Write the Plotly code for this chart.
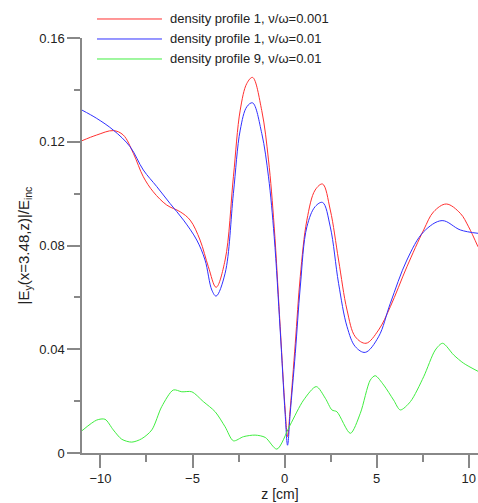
import plotly.graph_objects as go

# red: density profile 1, nu/omega = 0.001
z_red = [-11.0, -10.2, -9.3, -8.76, -8.21, -7.67, -7.13, -6.4, -5.67, -5.13, -4.59, -4.14, -3.72,
         -3.23, -2.78, -2.41, -2.05, -1.74, -1.24, -0.875, -0.565, -0.24, 0.03, 0.16,
         0.30, 0.58, 0.85, 1.21, 1.66, 2.06, 2.48, 2.93, 3.39, 3.84, 4.42, 5.1, 5.74, 6.64, 7.55, 8.09, 8.78,
         9.54, 9.99, 10.5]
v_red = [0.1204, 0.1226, 0.1243, 0.1226, 0.1155, 0.1065, 0.1007, 0.0956, 0.0930, 0.0898, 0.0821, 0.0718, 0.0639,
         0.0744, 0.1065, 0.1322, 0.1425, 0.1448, 0.1320, 0.1130, 0.0872, 0.0487, 0.0166, 0.0063,
         0.0166, 0.0423, 0.0680, 0.0898, 0.1014, 0.1037, 0.0937, 0.0744, 0.0551, 0.0448, 0.0423, 0.0474, 0.0564, 0.0718, 0.0860, 0.0930, 0.0960,
         0.0924, 0.0872, 0.0795]

# blue: density profile 1, nu/omega = 0.01
z_blue = [-11.0, -10.2, -9.3, -8.39, -7.67, -6.94, -6.22, -5.49, -4.77, -4.32, -3.95, -3.72,
          -3.23, -2.78, -2.41, -2.05, -1.74, -1.24, -0.875, -0.565, -0.24, 0.03, 0.16,
          0.30, 0.58, 0.85, 1.21, 1.66, 2.06, 2.48, 2.93, 3.39, 3.84, 4.38, 5.1, 5.74, 6.64, 7.55, 8.55, 9.54, 10.5]
v_blue = [0.1322, 0.1290, 0.1245, 0.1181, 0.1091, 0.1027, 0.0962, 0.0898, 0.0821, 0.0744, 0.0628, 0.0605,
          0.0693, 0.1001, 0.1245, 0.1335, 0.1350, 0.1232, 0.1065, 0.0834, 0.0474, 0.0150, 0.0030,
          0.0150, 0.0384, 0.0640, 0.0872, 0.0950, 0.0966, 0.0872, 0.0654, 0.0487, 0.0410, 0.0388, 0.0448, 0.0577, 0.0744, 0.0853, 0.0896, 0.0860, 0.0847]

# green: density profile 9, nu/omega = 0.01
z_green = [-11.0, -10.2, -9.75, -9.3, -8.84, -8.3, -7.76, -7.21, -6.67, -6.04, -5.58, -5.04, -4.41, -3.77, -3.23, -2.78,
           -2.23, -1.6, -1.05, -0.42, 0.30, 1.03, 1.72, 2.21, 2.57, 2.84, 3.57, 4.11, 4.65, 4.92, 5.38, 5.92, 6.28, 6.83,
           7.55, 8.18, 8.58, 9.18, 9.72, 10.5]
v_green = [0.0086, 0.0127, 0.0130, 0.0089, 0.0053, 0.0042, 0.0055, 0.0089, 0.0179, 0.0243, 0.0236, 0.0236, 0.0198, 0.0159, 0.0101, 0.0047,
           0.0063, 0.0069, 0.0060, 0.0015, 0.0108, 0.0204, 0.0256, 0.0211, 0.0166, 0.0159, 0.0076, 0.0153, 0.0281, 0.0298, 0.0262, 0.0204, 0.0166, 0.0198,
           0.0294, 0.0397, 0.0423, 0.0378, 0.0346, 0.0315]

legend_labels = ["density profile 1, \u03bd/\u03c9=0.001",
                 "density profile 1, \u03bd/\u03c9=0.01",
                 "density profile 9, \u03bd/\u03c9=0.01"]
colors = ["#ff3030", "#3030ff", "#40ee40"]

x_ticks = [-10, -5, 0, 5, 10]
y_ticks = [0, 0.04, 0.08, 0.12, 0.16]
y_tick_text = ["0", "0.04", "0.08", "0.12", "0.16"]

fig = go.Figure()
for zz, vv, c, name, sm in [(z_red, v_red, colors[0], legend_labels[0], 1.0),
                            (z_blue, v_blue, colors[1], legend_labels[1], 1.0),
                            (z_green, v_green, colors[2], legend_labels[2], 0.8)]:
    fig.add_trace(go.Scatter(x=zz, y=vv, mode="lines", name=name,
                             line=dict(color=c, width=1, shape="spline", smoothing=sm),
                             showlegend=False))

# legend drawn as shapes + text
leg_y = [1.0458, 0.9976, 0.9494]
for i in range(3):
    fig.add_shape(type="line", xref="paper", yref="paper", x0=0.0379, x1=0.2020,
                  y0=leg_y[i], y1=leg_y[i], line=dict(color=colors[i], width=1))
    fig.add_annotation(xref="paper", yref="paper", x=0.2172, y=leg_y[i], text=legend_labels[i],
                       showarrow=False, xanchor="left", yanchor="middle",
                       font=dict(size=13, color="#222222"))

axis_common = dict(showline=True, linecolor="#888888", linewidth=1.5, ticks="outside",
                   tickcolor="#888888", tickwidth=1.5, ticklen=13, showgrid=False, zeroline=False,
                   tickfont=dict(size=13, color="#222222"))

fig.update_xaxes(range=[-11.0, 10.5], tickvals=x_ticks, **axis_common,
                 minor=dict(ticks="outside", dtick=2.5, tick0=0, ticklen=7, tickcolor="#888888", tickwidth=1.5),
                 title=dict(text="z [cm]", font=dict(size=14, color="#222222"), standoff=4))
fig.update_yaxes(range=[0, 0.16], tickvals=y_ticks, ticktext=y_tick_text, **axis_common,
                 minor=dict(ticks="outside", dtick=0.02, tick0=0, ticklen=6, tickcolor="#888888", tickwidth=1.5),
                 title=dict(text="|E<sub>y</sub>(x=3.48,z)|/E<sub>inc</sub>", font=dict(size=15, color="#222222"), standoff=6))

fig.update_layout(width=478, height=503, margin=dict(l=82, r=0, t=38, b=50),
                  plot_bgcolor="white", paper_bgcolor="white",
                  font=dict(family="Liberation Sans, Arial, sans-serif"))

fig.write_html("out.html")
